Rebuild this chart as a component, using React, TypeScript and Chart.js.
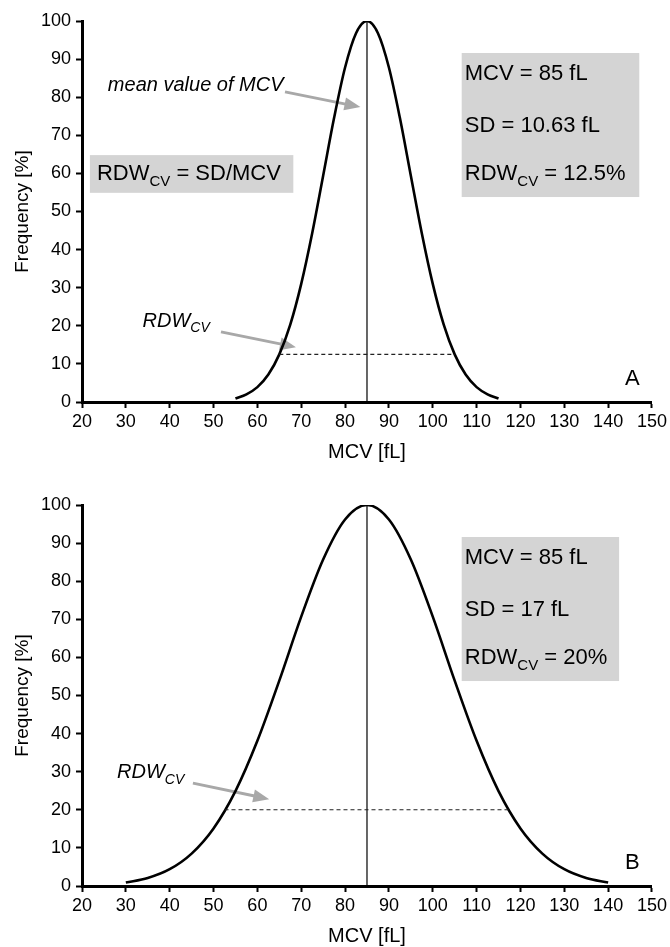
import React, { useEffect, useRef } from "react";
import { Chart, registerables } from "chart.js";

Chart.register(...registerables);

// ---------- data ----------
const xTickMin = 20;
const xTickMax = 150;
const xTickStep = 10;
const yTickMin = 0;
const yTickMax = 100;
const yTickStep = 10;

// Panel A: narrow distribution (MCV 85 fL, SD 10.63 fL)
const mcvA = [55, 57.5, 60, 62.5, 65, 67.5, 70, 72.5, 75, 77.5, 80, 82.5, 85, 87.5, 90, 92.5, 95, 97.5, 100, 102.5, 105, 107.5, 110, 112.5, 115];
const freqA = [0.9, 2.0, 3.9, 7.2, 12.5, 20.3, 31.0, 44.3, 59.4, 74.6, 87.8, 96.8, 100, 96.8, 87.8, 74.6, 59.4, 44.3, 31.0, 20.3, 12.5, 7.2, 3.9, 2.0, 0.9];

// Panel B: wide distribution (MCV 85 fL, SD 17 fL)
const mcvB = [30, 35, 40, 45, 50, 55, 60, 65, 70, 75, 80, 85, 90, 95, 100, 105, 110, 115, 120, 125, 130, 135, 140];
const freqB = [0.9, 2.1, 4.4, 8.5, 15.1, 24.9, 38.1, 53.9, 70.7, 85.7, 96.2, 100, 96.2, 85.7, 70.7, 53.9, 38.1, 24.9, 15.1, 8.5, 4.4, 2.1, 0.9];

const meanMCV = 85;
const meanLine = [0, 100];
const rdwLevelA = 12.5;
const rdwSpanA = [65, 105];
const rdwLevelB = 20;
const rdwSpanB = [52.5, 117.5];

const statsA = ["MCV = 85 fL", "SD = 10.63 fL", " = 12.5%"];
const statsB = ["MCV = 85 fL", "SD = 17 fL", " = 20%"];
const formulaText = " = SD/MCV";
const meanLabel = "mean value of MCV";
const rdwMain = "RDW";
const rdwSub = "CV";
const xTitle = "MCV [fL]";
const yTitle = "Frequency [%]";

// ---------- styles ----------
const FONT = "'Liberation Sans', Arial, Helvetica, sans-serif";
const BOX = "#d4d4d4";
const ARROW = "#a8a8a8";

type Seg = { t: string; sub?: boolean };
type Ann =
  | { kind: "box"; x0: number; x1: number; y0: number; y1: number }
  | { kind: "text"; x: number; y: number; size: number; italic?: boolean; center?: boolean; segs: Seg[] }
  | { kind: "arrow"; x0: number; y0: number; x1: number; y1: number };

const annA: Ann[] = [
  { kind: "box", x0: 21.8, x1: 68.2, y0: 54.9, y1: 64.8 },
  { kind: "text", x: 23.4, y: 58.3, size: 22, segs: [{ t: rdwMain }, { t: rdwSub, sub: true }, { t: formulaText }] },
  { kind: "box", x0: 106.6, x1: 147.1, y0: 53.8, y1: 91.6 },
  { kind: "text", x: 107.3, y: 84.5, size: 22, segs: [{ t: statsA[0] }] },
  { kind: "text", x: 107.3, y: 70.9, size: 22, segs: [{ t: statsA[1] }] },
  { kind: "text", x: 107.3, y: 58.3, size: 22, segs: [{ t: rdwMain }, { t: rdwSub, sub: true }, { t: statsA[2] }] },
  { kind: "arrow", x0: 66.3, y0: 81.4, x1: 83.5, y1: 77.4 },
  { kind: "text", x: 25.9, y: 81.6, size: 20, italic: true, segs: [{ t: meanLabel }] },
  { kind: "arrow", x0: 51.7, y0: 18.4, x1: 68.8, y1: 14.4 },
  { kind: "text", x: 33.8, y: 19.7, size: 20, italic: true, segs: [{ t: rdwMain }, { t: rdwSub, sub: true }] },
  { kind: "text", x: 145.5, y: 4.5, size: 22, center: true, segs: [{ t: "A" }] },
];

const annB: Ann[] = [
  { kind: "box", x0: 106.6, x1: 142.5, y0: 53.8, y1: 91.6 },
  { kind: "text", x: 107.3, y: 84.5, size: 22, segs: [{ t: statsB[0] }] },
  { kind: "text", x: 107.3, y: 70.9, size: 22, segs: [{ t: statsB[1] }] },
  { kind: "text", x: 107.3, y: 58.3, size: 22, segs: [{ t: rdwMain }, { t: rdwSub, sub: true }, { t: statsB[2] }] },
  { kind: "arrow", x0: 45.3, y0: 27.0, x1: 62.7, y1: 22.8 },
  { kind: "text", x: 28.0, y: 28.3, size: 20, italic: true, segs: [{ t: rdwMain }, { t: rdwSub, sub: true }] },
  { kind: "text", x: 145.5, y: 4.5, size: 22, center: true, segs: [{ t: "B" }] },
];

function drawArrow(ctx: CanvasRenderingContext2D, x0: number, y0: number, x1: number, y1: number) {
  const ang = Math.atan2(y1 - y0, x1 - x0);
  const L = 16;
  const W = 6.5;
  const bx = x1 - L * Math.cos(ang);
  const by = y1 - L * Math.sin(ang);
  ctx.strokeStyle = ARROW;
  ctx.lineWidth = 3;
  ctx.beginPath();
  ctx.moveTo(x0, y0);
  ctx.lineTo(bx + 1 * Math.cos(ang), by + 1 * Math.sin(ang));
  ctx.stroke();
  ctx.fillStyle = ARROW;
  ctx.beginPath();
  ctx.moveTo(x1, y1);
  ctx.lineTo(bx - W * Math.sin(ang), by + W * Math.cos(ang));
  ctx.lineTo(bx + W * Math.sin(ang), by - W * Math.cos(ang));
  ctx.closePath();
  ctx.fill();
}

function makeAnnPlugin(anns: Ann[]) {
  return {
    id: "annots",
    beforeDatasetsDraw(chart: any) {
      const ctx: CanvasRenderingContext2D = chart.ctx;
      const xs = chart.scales.x;
      const ys = chart.scales.y;
      ctx.save();
      for (const a of anns) {
        if (a.kind === "box") {
          const l = xs.getPixelForValue(a.x0);
          const r = xs.getPixelForValue(a.x1);
          const t = ys.getPixelForValue(a.y1);
          const b = ys.getPixelForValue(a.y0);
          ctx.fillStyle = BOX;
          ctx.fillRect(l, t, r - l, b - t);
        } else if (a.kind === "arrow") {
          drawArrow(ctx, xs.getPixelForValue(a.x0), ys.getPixelForValue(a.y0), xs.getPixelForValue(a.x1), ys.getPixelForValue(a.y1));
        } else {
          const style = a.italic ? "italic " : "";
          const subSize = Math.round(a.size * 0.68);
          let total = 0;
          for (const s of a.segs) {
            ctx.font = `${style}${s.sub ? subSize : a.size}px ${FONT}`;
            total += ctx.measureText(s.t).width;
          }
          let x = xs.getPixelForValue(a.x);
          if (a.center) x -= total / 2;
          const y = ys.getPixelForValue(a.y);
          ctx.fillStyle = "#000";
          ctx.textAlign = "left";
          ctx.textBaseline = "alphabetic";
          for (const s of a.segs) {
            ctx.font = `${style}${s.sub ? subSize : a.size}px ${FONT}`;
            ctx.fillText(s.t, x, s.sub ? y + a.size * 0.27 : y);
            x += ctx.measureText(s.t).width;
          }
        }
      }
      ctx.restore();
    },
  };
}

function buildConfig(mcv: number[], freq: number[], level: number, span: number[], anns: Ann[], padTop: number) {
  const curve = mcv.map((x, i) => ({ x, y: freq[i] }));
  const mean = meanLine.map((y) => ({ x: meanMCV, y }));
  const dashed = span.map((x) => ({ x, y: level }));
  return {
    type: "line" as const,
    data: {
      datasets: [
        { data: dashed, borderColor: "#222", borderWidth: 1.1, borderDash: [4, 3], pointRadius: 0, fill: false },
        { data: mean, borderColor: "#000", borderWidth: 1.2, pointRadius: 0, fill: false },
        { data: curve, borderColor: "#000", borderWidth: 2.6, pointRadius: 0, fill: false, cubicInterpolationMode: "monotone" as const },
      ],
    },
    options: {
      animation: false as const,
      responsive: false,
      maintainAspectRatio: false,
      layout: { padding: { top: padTop, right: 13, left: 0, bottom: 0 } },
      plugins: { legend: { display: false }, tooltip: { enabled: false } },
      elements: { point: { radius: 0 } },
      scales: {
        x: {
          type: "linear" as const,
          min: xTickMin,
          max: xTickMax,
          ticks: { stepSize: xTickStep, color: "#000", font: { size: 18, family: FONT }, padding: 3, maxRotation: 0, autoSkip: false },
          grid: { drawOnChartArea: false, drawTicks: true, tickLength: 6, tickWidth: 2, tickColor: "#000", color: "#000" },
          border: { display: true, width: 3, color: "#000" },
          title: { display: true, text: xTitle, color: "#000", font: { size: 20, family: FONT, lineHeight: 1 }, padding: { top: 0, bottom: 1 } },
          afterFit: (s: any) => {
            s.height = 61;
          },
        },
        y: {
          type: "linear" as const,
          min: yTickMin,
          max: yTickMax,
          ticks: { stepSize: yTickStep, color: "#000", font: { size: 18, family: FONT }, padding: 5 },
          grid: { drawOnChartArea: false, drawTicks: true, tickLength: 6, tickWidth: 2, tickColor: "#000", color: "#000" },
          border: { display: true, width: 3, color: "#000" },
          title: { display: true, text: yTitle, color: "#000", font: { size: 19, family: FONT, lineHeight: 1 }, padding: { top: 13, bottom: 0 } },
          afterFit: (s: any) => {
            s.width = 82;
          },
        },
      },
    },
    plugins: [makeAnnPlugin(anns)],
  };
}

export default function App() {
  const refA = useRef<HTMLCanvasElement | null>(null);
  const refB = useRef<HTMLCanvasElement | null>(null);

  useEffect(() => {
    document.body.style.margin = "0";
    const a = new Chart(refA.current as HTMLCanvasElement, buildConfig(mcvA, freqA, rdwLevelA, rdwSpanA, annA, 21) as any);
    const b = new Chart(refB.current as HTMLCanvasElement, buildConfig(mcvB, freqB, rdwLevelB, rdwSpanB, annB, 21) as any);
    return () => {
      a.destroy();
      b.destroy();
    };
  }, []);

  return (
    <div style={{ position: "absolute", left: 0, top: 0, width: 670, height: 947, background: "#fff", overflow: "hidden" }}>
      <canvas ref={refA} width={670} height={463} style={{ position: "absolute", left: 0, top: 0, width: 670, height: 463 }} />
      <canvas ref={refB} width={670} height={463} style={{ position: "absolute", left: 0, top: 484, width: 670, height: 463 }} />
    </div>
  );
}
